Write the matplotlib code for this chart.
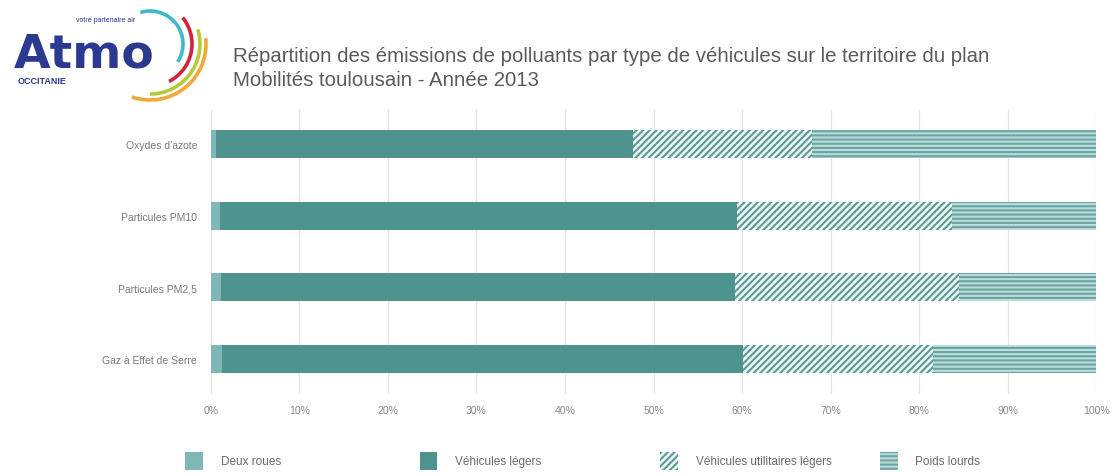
import matplotlib
matplotlib.use("Agg")
import matplotlib.pyplot as plt
from matplotlib.patches import Arc, Patch

plt.rcParams['font.family'] = ['Liberation Sans', 'DejaVu Sans']
plt.rcParams['hatch.linewidth'] = 1.5

# data (shares in %)
polluants = ["Oxydes d'azote", "Particules PM10", "Particules PM2,5", "Gaz à Effet de Serre"]
deux_roues = [0.6, 1.0, 1.1, 1.2]
vl = [47.1, 58.4, 58.1, 58.9]
vul = [20.2, 24.3, 25.3, 21.5]
pl = [32.1, 16.3, 15.5, 18.4]
ticks = [0, 10, 20, 30, 40, 50, 60, 70, 80, 90, 100]
series_names = ["Deux roues", "Véhicules légers", "Véhicules utilitaires légers", "Poids lourds"]

c_dr = '#7db7b6'
c_vl = '#4f938f'
c_line = '#5a9b97'
hatch_vul = '/////'
hatch_pl = '----'

fig = plt.figure(figsize=(11.15, 4.77), dpi=100)
ax = fig.add_axes([0.1892, 0.172, 0.7938, 0.597])

ypos = list(range(len(polluants)))
h = 0.39
left = [0] * 4
ax.barh(ypos, deux_roues, h, left=left, color=c_dr, linewidth=0)
left = [a + b for a, b in zip(left, deux_roues)]
ax.barh(ypos, vl, h, left=left, color=c_vl, linewidth=0)
left = [a + b for a, b in zip(left, vl)]
ax.barh(ypos, vul, h, left=left, color='#eef7f6', edgecolor=c_line, hatch=hatch_vul, linewidth=0)
left = [a + b for a, b in zip(left, vul)]
ax.barh(ypos, pl, h, left=left, color='#bcdcdb', edgecolor='#6aa5a1', hatch=hatch_pl, linewidth=0)

ax.set_xlim(0, 100)
ax.set_ylim(3.486, -0.486)
ax.set_xticks(ticks)
ax.set_xticklabels([f"{t}%" for t in ticks], fontsize=7.5, color='#8a8a8a')
ax.set_yticks(ypos)
ax.set_yticklabels(polluants, fontsize=7.5, color='#7a7a7a')
ax.tick_params(axis='y', length=0, pad=10)
ax.tick_params(axis='x', length=0, pad=8)
ax.grid(axis='x', color='#e6e6e6', linewidth=0.9)
ax.set_axisbelow(True)
for s in ax.spines.values():
    s.set_visible(False)

# title
fig.text(0.209, 0.856, "Répartition des émissions de polluants par type de véhicules sur le territoire du plan\nMobilités toulousain - Année 2013",
         fontsize=14.7, color='#5a5a5a', va='center', ha='left', linespacing=1.3)

# legend, one block per series
handles = [
    Patch(facecolor=c_dr, linewidth=0),
    Patch(facecolor=c_vl, linewidth=0),
    Patch(facecolor='#eef7f6', edgecolor=c_line, hatch=hatch_vul, linewidth=0),
    Patch(facecolor='#bcdcdb', edgecolor='#6aa5a1', hatch=hatch_pl, linewidth=0),
]
xs = [0.161, 0.371, 0.587, 0.784]
for hd, name, x in zip(handles, series_names, xs):
    fig.legend([hd], [name], loc='center left', bbox_to_anchor=(x, 0.032), frameon=False,
               fontsize=8.5, handlelength=1.5, handleheight=2.0, handletextpad=1.5,
               labelcolor='#6a6a6a', borderpad=0)

# logo
navy = '#2b3990'
fig.text(0.012, 0.858, "Atmo", fontsize=34, fontweight='bold', color=navy, va='baseline', ha='left',
         family='DejaVu Sans')
fig.text(0.016, 0.829, "OCCITANIE", fontsize=6.5, fontweight='bold', color=navy, va='center', ha='left')
fig.text(0.068, 0.958, "votre partenaire air", fontsize=5, color=navy, va='center', ha='left')
lax = fig.add_axes([100 / 1115, 1 - 110 / 477, 120 / 1115, 110 / 477])
lax.set_xlim(100, 220)
lax.set_ylim(-110, 0)
lax.axis('off')
arcs = [(33, '#3fb8c9', -33, 107), (42, '#d0253f', -63, 39), (50, '#b8c93a', -90, 17), (56, '#f2a83a', -109, 6)]
for r, col, t1, t2 in arcs:
    lax.add_patch(Arc((150, -45), 2 * r, 2 * r, theta1=t1, theta2=t2, color=col, linewidth=2.6))

fig.savefig("out.png", dpi=100)
